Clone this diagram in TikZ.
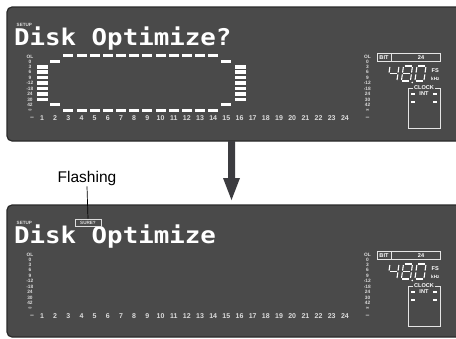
\documentclass[tikz,border=0pt]{standalone}
\usepackage{fontspec}
\setmainfont{Liberation Sans}
\newfontfamily\lcdfont{DejaVu Sans Mono}
\definecolor{panel}{HTML}{4A4A4A}
\definecolor{panelrim}{HTML}{2A2A2A}
\definecolor{lcdgray}{HTML}{DCDCDC}
\definecolor{arrowc}{HTML}{3C3C40}
\tikzset{
  panelbox/.style={fill=panel, draw=panelrim, line width=1.2pt, rounded corners=5pt},
  tinylbl/.style={font=\bfseries\fontsize{4.6}{5}\selectfont, text=lcdgray, inner sep=0pt},
  meterlbl/.style={font=\bfseries\fontsize{4.8}{5}\selectfont, text=lcdgray, inner sep=0pt},
  chnum/.style={font=\bfseries\fontsize{7}{8}\selectfont, text=lcdgray, inner sep=0pt},
  smalllbl/.style={font=\bfseries\fontsize{5.6}{6}\selectfont, text=white, inner sep=0pt},
  lcdtext/.style={font=\lcdfont\bfseries\fontsize{23}{23}\selectfont, text=white, inner sep=0pt, anchor=base west},
  segline/.style={draw=white, line width=1.1pt},
  boxline/.style={draw=white!90!black, line width=0.6pt},
  barfill/.style={fill=white},
}
\newcommand\bul{{\fontsize{3.5}{4}\selectfont•}}
% seven segments
\newcommand\sga{\draw[segline] (1,0) -- (8,0);}
\newcommand\sgb{\draw[segline] (9,1) -- (9,6.6);}
\newcommand\sgc{\draw[segline] (9,8.4) -- (9,14);}
\newcommand\sgd{\draw[segline] (1,15) -- (8,15);}
\newcommand\sge{\draw[segline] (0,8.4) -- (0,14);}
\newcommand\sgf{\draw[segline] (0,1) -- (0,6.6);}
\newcommand\sgg{\draw[segline] (1,7.5) -- (8,7.5);}
% seven segment digit: #1 x, #2 y, #3 segment commands
\newcommand\segdigit[3]{%
  \begin{scope}[shift={(#1,#2)}, xslant=0.14]
    #3
  \end{scope}}
% common panel contents: #1 prefix, #2 y offset, #3 title, #4 panel bottom
\newcommand\lcdpanel[4]{%
  \begin{scope}[shift={(0,#2)}]
    \path[panelbox] (7,7) rectangle (475,#4);
    \node[tinylbl, anchor=west] (#1-setup) at (16.5,24.5) {SETUP};
    \node[lcdtext] (#1-title) at (14,45) {\scalebox{1.12}[1]{#3}};
    \foreach \t/\y [count=\i] in {OL/57,0/62,3/67,6/72,9/77.5,\bul12/83,\bul18/88.5,24/94,30/99.5,42/104.5,∞/110}{%
      \node[meterlbl] (#1-ll\i) at (30,\y) {\t};
      \node[meterlbl] (#1-rl\i) at (367.5,\y) {\t};
    }
    \node[chnum] (#1-dl) at (32,118) {–};
    \node[chnum] (#1-dr) at (367.5,118.5) {–};
    \foreach \n in {1,...,24}{%
      \node[chnum] (#1-ch\n) at ({42+(\n-1)*13.17},118) {\n};
    }
    % BIT box
    \draw[boxline] (377,53) rectangle (440,61.5);
    \draw[boxline] (391,53) -- (391,61.5);
    \node[smalllbl] (#1-bit) at (384,57.3) {BIT};
    \node[smalllbl] (#1-bits) at (421,57.3) {24};
    % 48.0
    \segdigit{390}{66}{\sgb\sgc\sgf\sgg}
    \segdigit{403.5}{66}{\sga\sgb\sgc\sgd\sge\sgf\sgg}
    \segdigit{417}{66}{\sga\sgb\sgc\sgd\sge\sgf}
    \fill[white] (412.3,82.5) circle (0.9);
    \node[smalllbl, anchor=west] (#1-fs) at (431.5,70.5) {FS};
    \node[tinylbl, anchor=west, text=white] (#1-khz) at (431,78.5) {kHz};
    % CLOCK box
    \draw[boxline] (408,88) rectangle (440,128);
    \node[smalllbl, fill=panel, inner xsep=0.6pt] (#1-clock) at (424,88) {CLOCK};
    \node[smalllbl] (#1-int) at (424,94) {INT};
    \fill[white] (411,93.3) rectangle (415,94.8);
    \fill[white] (433,93.3) rectangle (437,94.8);
    \fill[white] (411,101.3) rectangle (415,102.8);
    \fill[white] (433,101.3) rectangle (437,102.8);
  \end{scope}}
\begin{document}
\begin{tikzpicture}[x=1pt, y=-1pt]
  \fill[white] (0,0) rectangle (456,338);
  \clip (0,0) rectangle (456,338);
  % top panel
  \lcdpanel{t}{0}{Disk Optimize?}{141}
  % meter bars, channels 1 and 16
  \foreach \y in {67,72,77.5,83,88.5,94,99.5}{%
    \fill[barfill] (37,\y-1.7) rectangle (48,\y+1.7);
    \fill[barfill] (235,\y-1.7) rectangle (246,\y+1.7);
  }
  % dashed frame
  \foreach \n in {3,...,14}{%
    \pgfmathsetmacro\c{42+(\n-1)*13.17}
    \fill[barfill] (\c-5,53.5) rectangle (\c+5,57);
    \fill[barfill] (\c-5,108.5) rectangle (\c+5,112);
  }
  \foreach \n in {2,15}{%
    \pgfmathsetmacro\c{42+(\n-1)*13.17}
    \fill[barfill] (\c-5,59.5) rectangle (\c+5,63);
    \fill[barfill] (\c-5,102.5) rectangle (\c+5,106);
  }
  % arrow
  \fill[arrowc] (228,141) -- (235,141) -- (235,178) -- (240,178) -- (231.5,200) -- (223,178) -- (228,178) -- cycle;
  % bottom panel
  \lcdpanel{b}{198}{Disk Optimize}{139}
  \node[draw=lcdgray, line width=0.6pt, fill=panel, minimum width=26pt, minimum height=7pt, inner sep=0pt,
        font=\bfseries\fontsize{4.6}{5}\selectfont, text=lcdgray] (sure) at (88,222.5) {SURE?};
  \node[font=\fontsize{15.5}{16}\selectfont, inner sep=1pt] (flash) at (87,178) {Flashing};
  \draw[line width=0.7pt] (flash.south) -- (sure.north);
\end{tikzpicture}
\end{document}
